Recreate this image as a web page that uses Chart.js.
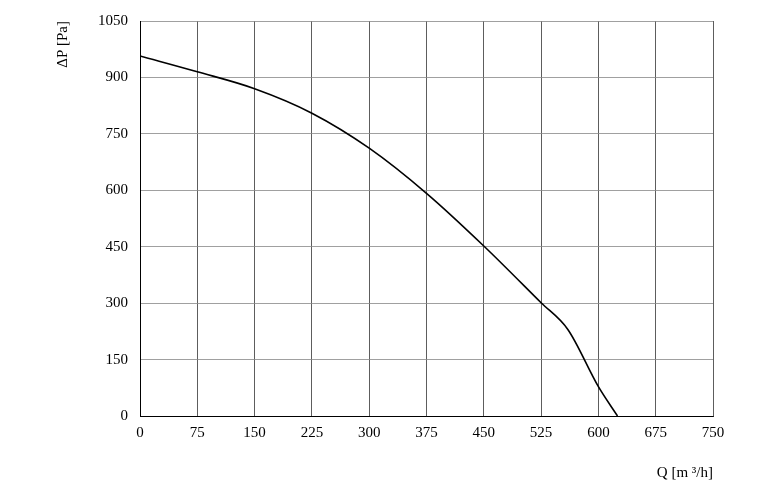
<!DOCTYPE html>
<html><head>
<script src="https://cdn.jsdelivr.net/npm/chart.js@4"></script>
<style>body{margin:0;background:#fff}#wrap{width:768px;height:498px}</style>
</head><body><div id="wrap"><canvas id="c"></canvas></div>
<script>
// fan curve: flow Q [m3/h] vs pressure dP [Pa]
const flow = [0, 75, 150, 225, 300, 375, 450, 525, 560, 600, 625];
const pressure = [957, 915, 870, 805, 712, 592, 452, 301, 230, 78, 0];
const xTicks = [0, 75, 150, 225, 300, 375, 450, 525, 600, 675, 750];
const yTicks = [0, 150, 300, 450, 600, 750, 900, 1050];

const font = {family: "'Liberation Serif', serif", size: 15};

new Chart(document.getElementById("c"), {
  type: "line",
  data: {datasets: [{data: flow.map((q, i) => ({x: q, y: pressure[i]})),
    borderColor: "#000", borderWidth: 1.6, pointRadius: 0, cubicInterpolationMode: "monotone"}]},
  options: {
    responsive: true, maintainAspectRatio: false, animation: false,
    layout: {padding: {left: 50, right: 55, top: 1, bottom: 12}},
    plugins: {legend: {display: false}, tooltip: {enabled: false}},
    scales: {
      x: {type: "linear", min: 0, max: 750,
        afterBuildTicks: s => { s.ticks = xTicks.map(v => ({value: v})); },
        grid: {color: "#333", lineWidth: 0.8, drawTicks: false},
        border: {color: "#000"},
        ticks: {color: "#000", font, padding: 8},
        title: {display: true, text: "Q [m ³/h]", align: "end", color: "#000", font, padding: {top: 14}}},
      y: {min: 0, max: 1050,
        afterBuildTicks: s => { s.ticks = yTicks.map(v => ({value: v})); },
        grid: {color: "#888", lineWidth: 0.8, drawTicks: false},
        border: {color: "#000"},
        ticks: {color: "#000", font, padding: 12, callback: v => String(v)},
        title: {display: true, text: "ΔP [Pa]", align: "end", color: "#000", font, padding: {bottom: 14}}}
    }
  }
});
</script></body></html>
